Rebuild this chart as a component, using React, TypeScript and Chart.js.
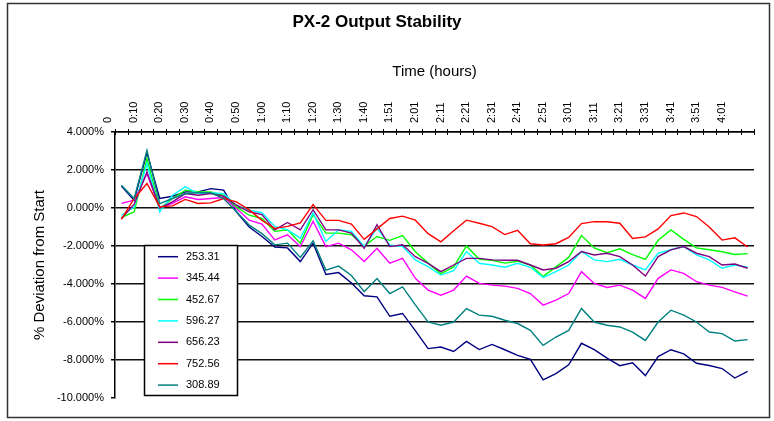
import React, { useEffect, useRef } from 'react';
import { Chart, registerables } from 'chart.js';

Chart.register(...registerables);

const timeLabels = [
  '0', '0:05', '0:10', '0:15', '0:20', '0:25', '0:30', '0:35', '0:40', '0:45',
  '0:50', '0:55', '1:00', '1:05', '1:10', '1:15', '1:20', '1:25', '1:30', '1:35',
  '1:40', '1:45', '1:51', '1:56', '2:01', '2:06', '2:11', '2:16', '2:21', '2:26',
  '2:31', '2:36', '2:41', '2:46', '2:51', '2:56', '3:01', '3:06', '3:11', '3:16',
  '3:21', '3:26', '3:31', '3:36', '3:41', '3:46', '3:51', '3:56', '4:01', '4:06',
];

const s253 = [1.15, 0.4, 2.9, 0.5, 0.62, 0.85, 0.85, 1.02, 0.94, -0.2, -1.0, -1.5, -2.05, -2.1, -2.82, -1.85, -3.5, -3.4, -3.95, -4.62, -4.68, -5.7, -5.55, -6.45, -7.4, -7.32, -7.55, -7.02, -7.45, -7.18, -7.46, -7.76, -7.97, -9.05, -8.72, -8.25, -7.12, -7.45, -7.9, -8.3, -8.15, -8.82, -7.82, -7.46, -7.68, -8.17, -8.29, -8.45, -8.95, -8.6];
const s345 = [0.24, 0.41, 1.81, 0.0, 0.24, 0.59, 0.45, 0.5, 0.55, -0.03, -0.64, -0.85, -1.68, -1.41, -2.03, -0.7, -2.03, -1.85, -2.2, -2.82, -2.12, -2.9, -2.65, -3.7, -4.32, -4.59, -4.32, -3.58, -3.97, -4.06, -4.11, -4.23, -4.5, -5.11, -4.85, -4.5, -3.35, -3.97, -4.18, -4.06, -4.32, -4.76, -3.7, -3.26, -3.44, -3.88, -4.06, -4.18, -4.41, -4.64];
const s452 = [-0.5, -0.2, 2.6, -0.03, 0.5, 0.94, 0.85, 0.85, 0.67, 0.06, -0.38, -0.55, -1.23, -1.15, -1.85, -0.35, -1.32, -1.32, -1.41, -2.0, -1.5, -1.7, -1.45, -2.3, -2.9, -3.45, -3.1, -2.0, -2.7, -2.75, -2.9, -2.8, -3.0, -3.6, -3.1, -2.6, -1.45, -2.1, -2.35, -2.15, -2.45, -2.7, -1.7, -1.15, -1.65, -2.1, -2.2, -2.3, -2.45, -2.4];
const s596 = [-0.38, 0.05, 2.34, -0.2, 0.67, 1.11, 0.76, 0.8, 0.76, 0.15, -0.12, -0.25, -0.97, -1.15, -1.59, -0.26, -1.76, -1.15, -1.23, -2.03, -1.06, -1.94, -2.03, -2.73, -3.09, -3.53, -3.3, -2.29, -2.91, -3.0, -3.12, -2.91, -3.12, -3.65, -3.35, -3.0, -2.29, -2.73, -2.82, -2.7, -3.0, -3.26, -2.38, -2.2, -2.03, -2.47, -2.73, -3.17, -3.0, -3.12];
const s656 = [-0.55, 0.2, 1.9, 0.0, 0.32, 0.76, 0.67, 0.76, 0.62, 0.15, -0.2, -0.35, -1.15, -0.76, -1.15, -0.09, -1.15, -1.15, -1.32, -2.12, -0.88, -2.03, -1.94, -2.56, -2.91, -3.35, -3.0, -2.65, -2.65, -2.73, -2.75, -2.75, -3.0, -3.26, -3.17, -2.82, -2.29, -2.47, -2.38, -2.56, -3.0, -3.58, -2.56, -2.2, -2.03, -2.38, -2.56, -3.0, -2.95, -3.17];
const s752 = [-0.6, 0.5, 1.29, 0.06, 0.11, 0.45, 0.24, 0.27, 0.5, 0.32, -0.1, -0.65, -1.07, -0.97, -0.79, 0.18, -0.65, -0.65, -0.85, -1.65, -1.1, -0.55, -0.43, -0.64, -1.35, -1.78, -1.2, -0.64, -0.8, -0.98, -1.4, -1.17, -1.88, -1.95, -1.88, -1.55, -0.82, -0.72, -0.72, -0.8, -1.6, -1.52, -1.1, -0.4, -0.26, -0.45, -1.0, -1.69, -1.57, -2.05];
const s308 = [1.2, 0.5, 3.04, 0.23, 0.5, 0.76, 0.8, 0.8, 0.5, -0.2, -0.9, -1.35, -1.94, -1.85, -2.6, -1.73, -3.27, -3.06, -3.55, -4.41, -3.71, -4.5, -4.15, -5.1, -6.0, -6.17, -6.0, -5.29, -5.64, -5.7, -5.91, -6.08, -6.44, -7.23, -6.79, -6.44, -5.29, -6.0, -6.17, -6.26, -6.53, -6.97, -6.0, -5.38, -5.64, -6.0, -6.53, -6.61, -7.0, -6.93];

const seriesNames = ['253.31', '345.44', '452.67', '596.27', '656.23', '752.56', '308.89'];
const seriesData = [s253, s345, s452, s596, s656, s752, s308];
const seriesColors = ['#000080', '#FF00FF', '#00FF00', '#00FFFF', '#800080', '#FF0000', '#008080'];

const yMin = -10;
const yMax = 4;
const yStep = 2;

const FONT = '"Liberation Sans", Arial, sans-serif';

const decorPlugin = {
  id: 'decor',
  beforeDraw(chart: any) {
    const ctx = chart.ctx;
    ctx.save();
    ctx.fillStyle = '#fff';
    ctx.fillRect(0, 0, chart.width, chart.height);
    ctx.strokeStyle = '#333';
    ctx.lineWidth = 1.5;
    ctx.strokeRect(7.5, 3.5, 762, 414);
    ctx.restore();
  },
  afterDraw(chart: any) {
    const { ctx, chartArea } = chart;
    const n = timeLabels.length;
    const w = (chartArea.right - chartArea.left) / n;
    ctx.save();
    ctx.strokeStyle = '#000';
    ctx.lineWidth = 1;
    ctx.beginPath();
    for (let i = 0; i <= n; i++) {
      const px = Math.round(chartArea.left + i * w) + 0.5;
      ctx.moveTo(px, chartArea.top - 3);
      ctx.lineTo(px, chartArea.top + 3);
    }
    ctx.stroke();

    // legend
    const bx = 144.5, by = 245.5, bw = 93, bh = 150;
    ctx.fillStyle = '#fff';
    ctx.fillRect(bx, by, bw, bh);
    ctx.strokeStyle = '#000';
    ctx.lineWidth = 1.5;
    ctx.strokeRect(bx, by, bw, bh);
    ctx.font = `11px ${FONT}`;
    ctx.textBaseline = 'middle';
    ctx.textAlign = 'left';
    seriesNames.forEach((name, i) => {
      const y = 256.7 + i * 21.4;
      ctx.strokeStyle = seriesColors[i];
      ctx.lineWidth = 1.5;
      ctx.beginPath();
      ctx.moveTo(158, y);
      ctx.lineTo(178, y);
      ctx.stroke();
      ctx.fillStyle = '#000';
      ctx.fillText(name, 186, y);
    });
    ctx.restore();
  },
};

export default function App() {
  const ref = useRef<HTMLCanvasElement>(null);

  useEffect(() => {
    if (!ref.current) return;
    const chart = new Chart(ref.current, {
      type: 'line',
      data: {
        labels: timeLabels,
        datasets: seriesData.map((d, i) => ({
          label: seriesNames[i],
          data: d,
          borderColor: seriesColors[i],
          backgroundColor: seriesColors[i],
          borderWidth: 1.4,
          pointRadius: 0,
          tension: 0,
          fill: false,
          order: seriesData.length - i,
        })),
      },
      options: {
        responsive: false,
        animation: false,
        devicePixelRatio: 1,
        layout: { padding: { left: 0, top: 0, right: 20, bottom: 23 } },
        plugins: {
          legend: { display: false },
          tooltip: { enabled: false },
          title: {
            display: true,
            text: 'PX-2 Output Stability',
            color: '#000',
            font: { family: FONT, size: 17, weight: 'bold' },
            padding: { top: 12, bottom: 0 },
          },
        },
        scales: {
          x: {
            type: 'category',
            position: 'top',
            offset: true,
            grid: { display: false, drawTicks: false },
            border: { display: true, color: '#000', width: 1.5 },
            title: {
              display: true,
              text: 'Time (hours)',
              color: '#000',
              font: { family: FONT, size: 15 },
              padding: { top: 30, bottom: 0 },
            },
            ticks: {
              autoSkip: false,
              maxRotation: 90,
              minRotation: 90,
              padding: 9,
              color: '#000',
              font: { family: FONT, size: 11 },
              callback: (_v: any, idx: number) => (idx % 2 === 0 ? timeLabels[idx] : ''),
            },
            afterFit: (scale: any) => {
              scale.height = 132 - 32.4;
            },
          },
          y: {
            min: yMin,
            max: yMax,
            position: 'left',
            grid: {
              color: (c: any) => (c.tick && c.tick.value === yMin ? 'rgba(0,0,0,0)' : '#111'),
              lineWidth: 1.5,
              tickColor: '#000',
              tickLength: 4,
              drawTicks: true,
            },
            border: { display: true, color: '#000', width: 1.5 },
            title: {
              display: true,
              text: '% Deviation from Start',
              color: '#000',
              font: { family: FONT, size: 15 },
              padding: { top: 31, bottom: 0 },
            },
            ticks: {
              stepSize: yStep,
              padding: 7,
              color: '#000',
              font: { family: FONT, size: 11 },
              callback: (v: any) => Number(v).toFixed(3) + '%',
            },
            afterFit: (scale: any) => {
              scale.width = 115;
            },
          },
        },
      },
      plugins: [decorPlugin],
    } as any);
    return () => chart.destroy();
  }, []);

  return (
    <div style={{ width: 774, height: 421 }}>
      <style>{`body{margin:0;}`}</style>
      <canvas ref={ref} width={774} height={421} />
    </div>
  );
}
